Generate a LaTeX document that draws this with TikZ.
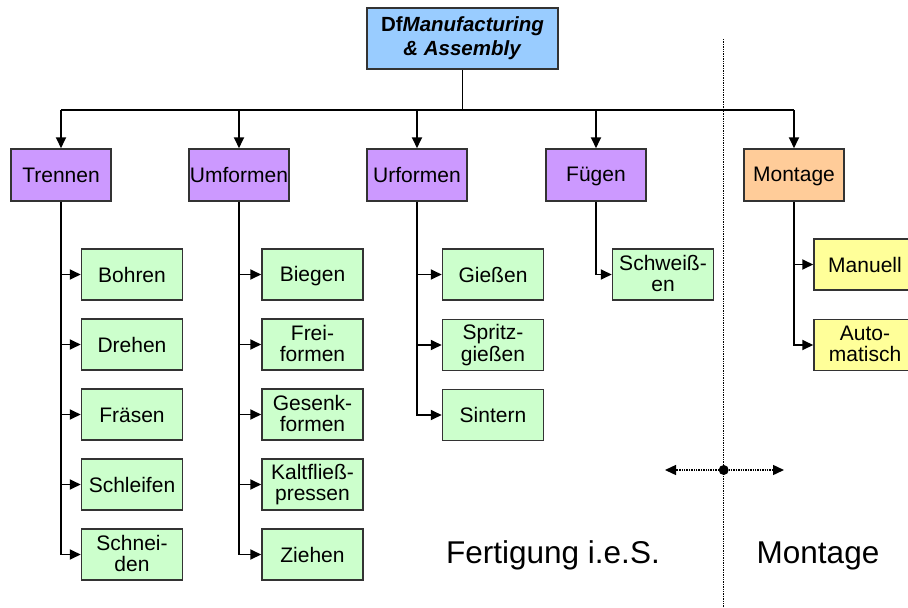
\documentclass[tikz,border=0pt]{standalone}
\usepackage{fontspec}
\setmainfont{Liberation Sans}
\usetikzlibrary{arrows.meta}
\definecolor{rootblue}{HTML}{99CCFF}
\definecolor{procviolet}{HTML}{CC99FF}
\definecolor{asmorange}{HTML}{FFCC99}
\definecolor{opgreen}{HTML}{CCFFCC}
\definecolor{opyellow}{HTML}{FFFF99}
\definecolor{edgegray}{HTML}{333333}
\tikzset{
  box/.style={draw=edgegray, line width=1.5pt, align=center, inner sep=0pt,
    font=\fontsize{21}{21.5}\selectfont,
    execute at begin node={\rule{0pt}{17.5pt}},
    execute at end node={\rule[-2.5pt]{0pt}{0pt}}},
  rootbox/.style={box, fill=rootblue, minimum width=191pt, minimum height=61pt,
    font=\fontsize{20.5}{24}\selectfont},
  groupbox/.style={box, fill=procviolet, minimum width=100pt, minimum height=52pt},
  asmbox/.style={box, fill=asmorange, minimum width=100pt, minimum height=52pt},
  opbox/.style={box, fill=opgreen, minimum width=101pt, minimum height=51pt},
  manbox/.style={box, fill=opyellow, minimum width=102pt, minimum height=51pt},
  link/.style={draw=black, line width=1.8pt},
  arrowlink/.style={link, -{Triangle[length=11pt,width=10pt]}},
  divider/.style={draw=black, line width=1.4pt, densely dotted},
  bigtext/.style={font=\fontsize{31.5}{34}\selectfont, anchor=base, inner sep=0pt}
}
\begin{document}
\begin{tikzpicture}[x=1pt,y=-1pt]
\useasboundingbox (0,0) rectangle (908,608);
\clip (0,0) rectangle (908,608);

% top node
\node[rootbox] (root) at (462.5,38.5)
  {\textbf{Df\textit{Manufacturing}}\\\textbf{\textit{\& Assembly}}};

% process groups
\node[groupbox] (trennen)  at (61,175)  {Trennen};
\node[groupbox] (umformen) at (239,175) {Umformen};
\node[groupbox] (urformen) at (417,175) {Urformen};
\node[groupbox] (fuegen)   at (596,175) {Fügen};
\node[asmbox]   (montage)  at (794,175) {Montage};

% Trennen
\node[opbox] (bohren)    at (132,274.5) {Bohren};
\node[opbox] (drehen)    at (132,344.5) {Drehen};
\node[opbox] (fraesen)   at (132,414.5) {Fräsen};
\node[opbox] (schleifen) at (132,484.5) {Schleifen};
\node[opbox] (schneiden) at (132,554.5) {Schnei-\\den};

% Umformen
\node[opbox] (biegen)   at (312.5,274.5) {Biegen};
\node[opbox] (frei)     at (312.5,344.5) {Frei-\\formen};
\node[opbox] (gesenk)   at (312.5,414.5) {Gesenk-\\formen};
\node[opbox] (kalt)     at (312.5,484.5) {Kaltfließ-\\pressen};
\node[opbox] (ziehen)   at (312.5,554.5) {Ziehen};

% Urformen
\node[opbox] (giessen)  at (493,274.5) {Gießen};
\node[opbox] (spritz)   at (493,345)   {Spritz-\\gießen};
\node[opbox] (sintern)  at (493,415)   {Sintern};

% Fuegen
\node[opbox] (schweissen) at (663,274.5) {Schweiß-\\en};

% Montage
\node[manbox] (manuell) at (865,264.5) {Manuell};
\node[manbox] (auto)    at (865,345)   {Auto-\\matisch};

% distribution bus below the top node
\draw[link] (root.south) -- ++(0,40) coordinate (bus);
\draw[link] (bus -| trennen) -- (bus -| montage);
\foreach \g in {trennen,umformen,urformen,fuegen,montage}
  \draw[arrowlink] (bus -| \g) -- (\g.north);

% branches to the operations
\foreach \g/\c in {trennen/bohren, trennen/drehen, trennen/fraesen,
    trennen/schleifen, trennen/schneiden,
    umformen/biegen, umformen/frei, umformen/gesenk, umformen/kalt, umformen/ziehen,
    urformen/giessen, urformen/spritz, urformen/sintern,
    fuegen/schweissen, montage/manuell, montage/auto}
  \draw[arrowlink] (\g.south) |- (\c.west);

% divider between manufacturing and assembly
\coordinate (divtop) at (723.7,39);
\coordinate (divbot) at (723.7,608);
\coordinate (hub) at (723.7,470);
\coordinate (hubL) at (665,470);
\coordinate (hubR) at (784,470);
\draw[divider] (divtop) -- (divbot);
\draw[divider, -{Triangle[length=11pt,width=10pt]}] (hub) -- (hubL);
\draw[divider, -{Triangle[length=11pt,width=10pt]}] (hub) -- (hubR);
\fill[black] (hub) circle (5pt);

\node[bigtext] (fertigung) at (553,563) {Fertigung i.e.S.};
\node[bigtext] (montagetxt) at (818,563) {Montage};
\end{tikzpicture}
\end{document}
